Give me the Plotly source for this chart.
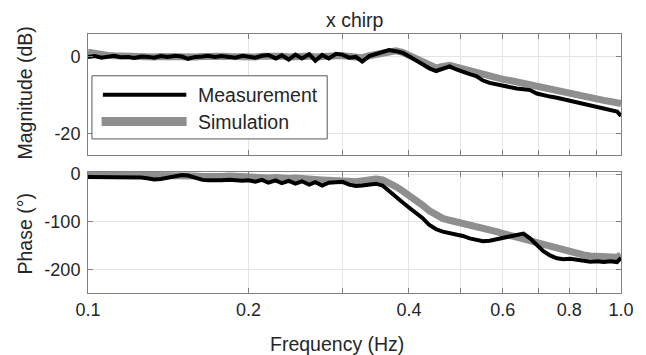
import plotly.graph_objects as go

# ---- data ----
freq = [0.100, 0.103, 0.106, 0.109, 0.112, 0.115, 0.119, 0.122, 0.126, 0.130,
        0.133, 0.137, 0.141, 0.146, 0.150, 0.154, 0.159, 0.164, 0.168, 0.173,
        0.178, 0.184, 0.189, 0.195, 0.200, 0.206, 0.212, 0.218, 0.225, 0.231,
        0.238, 0.245, 0.252, 0.260, 0.267, 0.275, 0.283, 0.292, 0.300, 0.309,
        0.318, 0.327, 0.337, 0.347, 0.357, 0.367, 0.378, 0.389, 0.400, 0.412,
        0.424, 0.437, 0.450, 0.463, 0.477, 0.491, 0.505, 0.520, 0.535, 0.551,
        0.567, 0.584, 0.601, 0.619, 0.637, 0.656, 0.675, 0.695, 0.715, 0.736,
        0.758, 0.780, 0.803, 0.827, 0.851, 0.876, 0.902, 0.928, 0.955, 0.983,
        1.000]

mag_meas = [0.0, 0.2, -0.2, 0.1, 0.3, -0.1, 0.0, -0.3, 0.1, 0.0,
            -0.2, 0.2, 0.0, 0.3, 0.1, -0.5, 0.0, 0.1, 0.3, 0.0,
            0.2, 0.0, -0.2, 0.3, 0.1, -0.2, 0.3, 0.5, -0.4, 0.4,
            -0.7, 0.6, -0.4, 0.7, -1.0, 0.5, -0.4, 0.8, 0.6, -0.2,
            0.0, -1.2, 0.2, 0.7, 1.1, 1.8, 1.5, 1.1, 0.2, -0.8,
            -2.0, -3.0, -3.7, -3.0, -2.5, -3.3, -4.0, -4.5, -5.0, -6.2,
            -6.8, -7.2, -7.5, -7.9, -8.3, -8.5, -8.7, -9.6, -10.1, -10.4,
            -10.7, -11.1, -11.6, -12.0, -12.2, -12.6, -13.1, -13.5, -13.9, -14.3,
            -15.5]

mag_sim = [1.2, 0.8, 0.5, 0.4, 0.3, 0.2, 0.2, 0.1, 0.1, 0.1,
           0.0, 0.1, 0.0, 0.1, 0.2, 0.1, 0.0, 0.1, 0.2, 0.1,
           0.2, 0.1, 0.0, 0.1, 0.1, 0.0, 0.2, 0.3, 0.1, 0.2,
           0.0, 0.2, 0.1, 0.2, 0.0, 0.2, 0.1, 0.3, 0.3, 0.1,
           0.2, -0.2, 0.3, 0.6, 1.0, 1.6, 1.6, 1.2, 0.4, -0.5,
           -1.5, -2.4, -2.9, -2.5, -2.2, -2.7, -3.2, -3.7, -4.2, -4.7,
           -5.1, -5.5, -5.9, -6.2, -6.6, -7.0, -7.4, -7.8, -8.1, -8.5,
           -8.8, -9.2, -9.5, -9.9, -10.3, -10.7, -11.0, -11.4, -11.7, -12.0,
           -12.2]

phase_meas = [-6, -6, -5, -6, -5, -6, -6, -5, -7, -9,
              -11, -10, -7, -4, -2, -3, -8, -12, -13, -12,
              -13, -12, -13, -14, -13, -16, -12, -18, -13, -19,
              -14, -20, -15, -22, -17, -24, -18, -18, -16, -22,
              -25, -24, -22, -20, -24, -36, -48, -59, -70, -80,
              -92, -107, -116, -121, -124, -127, -130, -135, -139, -141,
              -140, -137, -133, -130, -127, -125, -135, -150, -162, -171,
              -177, -179, -178, -180, -182, -184, -183, -185, -183, -185,
              -176]

phase_sim = [-1, -1, -2, -1, -2, -1, -2, -3, -3, -4,
             -4, -3, -3, -4, -4, -3, -4, -5, -4, -5,
             -5, -4, -5, -6, -6, -7, -6, -8, -7, -9,
             -9, -8, -10, -10, -11, -12, -12, -14, -12, -15,
             -16, -14, -12, -10, -12, -18, -26, -35, -44, -54,
             -65, -77, -86, -93, -97, -100, -103, -107, -111, -114,
             -117, -121, -125, -128, -132, -136, -140, -144, -148, -152,
             -156, -160, -164, -167, -170, -172, -173, -174, -175, -175,
             -170]

x_tickvals = [0.1, 0.2, 0.3, 0.4, 0.5, 0.6, 0.7, 0.8, 0.9, 1.0]
x_ticktext = ["0.1", "0.2", "", "0.4", "", "0.6", "", "0.8", "", "1.0"]
mag_ticks = [-20, 0]
mag_ticktext = ["-20", "0"]
phase_ticks = [-200, -100, 0]
phase_ticktext = ["-200", "-100", "0"]

series_names = ["Measurement", "Simulation"]

# ---- styling ----
BLACK = "#000000"
GRAY = "#8f8f8f"
FONT = "Liberation Sans, Arial, Helvetica, sans-serif"
TXT = "#262626"

fig = go.Figure()
fig.add_trace(go.Scatter(x=freq, y=mag_sim, mode="lines", name=series_names[1],
                         line=dict(color=GRAY, width=7), xaxis="x", yaxis="y",
                         showlegend=False))
fig.add_trace(go.Scatter(x=freq, y=mag_meas, mode="lines", name=series_names[0],
                         line=dict(color=BLACK, width=4), xaxis="x", yaxis="y",
                         showlegend=False))
fig.add_trace(go.Scatter(x=freq, y=phase_sim, mode="lines", name=series_names[1],
                         line=dict(color=GRAY, width=7), xaxis="x2", yaxis="y2",
                         showlegend=False))
fig.add_trace(go.Scatter(x=freq, y=phase_meas, mode="lines", name=series_names[0],
                         line=dict(color=BLACK, width=4), xaxis="x2", yaxis="y2",
                         showlegend=False))

axis_common = dict(showline=True, linecolor="#808080", linewidth=1, mirror="allticks",
                   ticks="inside", ticklen=5, tickcolor="#808080",
                   showgrid=True, gridcolor="#e4e4e4", gridwidth=1, zeroline=False,
                   tickfont=dict(family=FONT, size=18, color=TXT))

fig.update_layout(
    width=646, height=355,
    margin=dict(l=88, r=21, t=34, b=62),
    paper_bgcolor="white", plot_bgcolor="white",
    showlegend=False,
    xaxis=dict(type="log", range=[-1, 0], domain=[0, 1], anchor="y",
               tickvals=x_tickvals, ticktext=x_ticktext, showticklabels=False,
               **axis_common),
    yaxis=dict(range=[-25.7, 6.0], domain=[0.533, 1], anchor="x",
               tickvals=mag_ticks, ticktext=mag_ticktext, ticklabelstandoff=3,
               **axis_common),
    xaxis2=dict(type="log", range=[-1, 0], domain=[0, 1], anchor="y2",
                tickvals=x_tickvals, ticktext=x_ticktext, **axis_common),
    yaxis2=dict(range=[-250, 5], domain=[0, 0.468], anchor="x2",
                tickvals=phase_ticks, ticktext=phase_ticktext, ticklabelstandoff=3,
                **axis_common),
)

# titles
ann_font = dict(family=FONT, size=19.5, color=TXT)
fig.add_annotation(text="x chirp", xref="paper", yref="paper", x=0.5, y=1.054,
                   showarrow=False, font=ann_font, xanchor="center", yanchor="middle")
fig.add_annotation(text="Magnitude (dB)", xref="paper", yref="paper", x=-0.1183, y=0.774,
                   showarrow=False, font=ann_font, textangle=-90,
                   xanchor="center", yanchor="middle")
fig.add_annotation(text="Phase (°)", xref="paper", yref="paper", x=-0.119, y=0.228,
                   showarrow=False, font=ann_font, textangle=-90,
                   xanchor="center", yanchor="middle")
fig.add_annotation(text="Frequency (Hz)", xref="paper", yref="paper", x=0.4674, y=-0.197,
                   showarrow=False, font=ann_font, xanchor="center", yanchor="middle")

# legend (drawn inside the magnitude panel)
fig.add_shape(type="rect", xref="x domain", yref="y domain",
              x0=0.0074, x1=0.4488, y0=0.1326, y1=0.6545,
              line=dict(color="#5a5a5a", width=1), fillcolor="white", layer="above")
fig.add_shape(type="line", xref="x domain", yref="y domain",
              x0=0.0279, x1=0.1844, y0=0.497, y1=0.497,
              line=dict(color=BLACK, width=4), layer="above")
fig.add_shape(type="line", xref="x domain", yref="y domain",
              x0=0.0255, x1=0.185, y0=0.276, y1=0.276,
              line=dict(color=GRAY, width=9), layer="above")
fig.add_annotation(text=series_names[0], xref="x domain", yref="y domain",
                   x=0.203, y=0.497, showarrow=False, font=ann_font,
                   xanchor="left", yanchor="middle")
fig.add_annotation(text=series_names[1], xref="x domain", yref="y domain",
                   x=0.203, y=0.276, showarrow=False, font=ann_font,
                   xanchor="left", yanchor="middle")

fig.write_html("out.html", config={"displayModeBar": False},
               post_script="document.body.style.margin='0';")
